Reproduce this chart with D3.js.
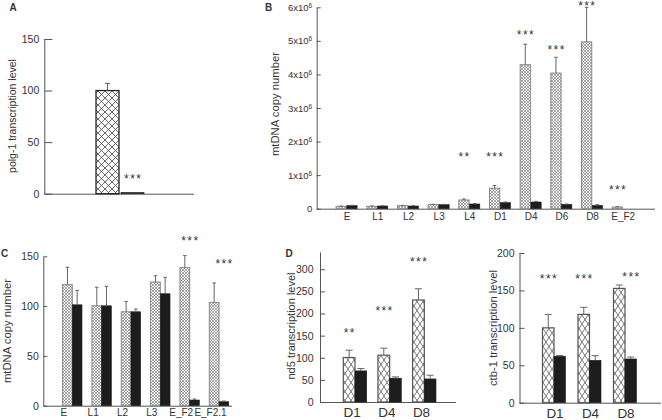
<!DOCTYPE html>
<html>
<head>
<meta charset="utf-8">
<script src="https://cdn.jsdelivr.net/npm/d3@7/dist/d3.min.js"></script>
<style>
  html, body { margin: 0; padding: 0; background: #fff; }
  svg { display: block; }
  text { font-family: "Liberation Sans", Arial, Helvetica, sans-serif; fill: #333; }
</style>
</head>
<body>
<svg id="chart" width="662" height="420"></svg>
<script>
// ---------------- DATA ----------------
// Panel A: polg-1 transcription level
const aGroups = ["polg-1"];
const aCtrl = [100];
const aCtrlErr = [7];
const aMut = [1.2];
const aMutErr = [0];
const aSig = ["***"];
const aSigAt = ["mut"];
const aSigLevel = [17.5];
const aTicks = [0, 50, 100, 150];

// Panel B: mtDNA copy number across stages
const bCats = ["E", "L1", "L2", "L3", "L4", "D1", "D4", "D6", "D8", "E_F2"];
const bCtrl = [70000, 70000, 90000, 120000, 260000, 610000, 4290000, 4040000, 4970000, 50000];
const bCtrlErr = [10000, 10000, 10000, 10000, 30000, 80000, 610000, 470000, 1030000, 10000];
const bMut = [90000, 80000, 80000, 120000, 140000, 180000, 200000, 130000, 100000, 0];
const bMutErr = [10000, 10000, 10000, 10000, 10000, 20000, 20000, 10000, 20000, 0];
const bSig = ["", "", "", "", "**", "***", "***", "***", "***", "***"];
const bSigAt = ["", "", "", "", "ctrl", "ctrl", "ctrl", "ctrl", "ctrl", "ctrl"];
const bSigLevel = [null, null, null, null, 1630000, 1630000, 5250000, 4810000, 6140000, 650000];
const bTicks = [0, 1000000, 2000000, 3000000, 4000000, 5000000, 6000000];

// Panel C: mtDNA copy number (relative)
const cCats = ["E", "L1", "L2", "L3", "E_F2", "E_F2.1"];
const cCtrl = [121.5, 100.3, 94.3, 124.2, 138.6, 103.7];
const cCtrlErr = [17.5, 18.7, 10.4, 6.3, 12.1, 19.5];
const cMut = [101.3, 100.3, 94.3, 112.4, 5.7, 4.0];
const cMutErr = [14.5, 19.5, 2.7, 16.5, 1.0, 0.7];
const cSig = ["", "", "", "", "***", "***"];
const cSigAt = ["", "", "", "", "mid", "mut"];
const cSigLevel = [null, null, null, null, 168, 145];
const cTicks = [0, 50, 100, 150];

// Panel D: nd5 and ctb-1 transcription levels
const dCats = ["D1", "D4", "D8"];
const nd5Ctrl = [100.5, 105.8, 230.5];
const nd5CtrlErr = [16.5, 15.9, 25.5];
const nd5Mut = [70.3, 53.7, 52.1];
const nd5MutErr = [5.3, 3.0, 8.4];
const nd5Sig = ["**", "***", "***"];
const nd5SigAt = ["ctrl", "ctrl", "ctrl"];
const nd5SigLevel = [163.6, 211.6, 323.4];
const nd5Ticks = [0, 50, 100, 150, 200, 250, 300];

const ctbCtrl = [100, 118, 152.7];
const ctbCtrlErr = [18, 9.4, 4.5];
const ctbMut = [62, 56.6, 58.4];
const ctbMutErr = [1, 6.2, 2.6];
const ctbSig = ["***", "***", "***"];
const ctbSigAt = ["ctrl", "ctrl", "mut"];
const ctbSigLevel = [169.4, 169.4, 172];
const ctbTicks = [0, 50, 100, 150, 200];

// ---------------- DRAWING ----------------
const svg = d3.select("#chart");
const FONT = '"Liberation Sans", Arial, Helvetica, sans-serif';

const defs = svg.append("defs");
function hatch(id, w, h, color, sw) {
  const p = defs.append("pattern").attr("id", id)
    .attr("patternUnits", "userSpaceOnUse").attr("width", w).attr("height", h);
  p.append("rect").attr("width", w).attr("height", h).attr("fill", "#fff");
  p.append("path").attr("d", `M0,0L${w},${h}M${w},0L0,${h}`)
    .attr("stroke", color).attr("stroke-width", sw).attr("fill", "none");
}
hatch("patA", 7, 7, "#444", 0.8);
hatch("patBC", 3, 3, "#6a6a6a", 0.6);
hatch("patD", 6, 9, "#555", 0.8);

function drawPanel(o) {
  const g = svg.append("g");
  const y = d3.scaleLinear().domain(o.yDomain).range(o.yRange);
  const x = d3.scalePoint().domain(o.cats).range(o.xRange);
  const sub = d3.scaleBand().domain(["ctrl", "mut"]).range(o.subRange).paddingInner(o.subPad || 0);
  const bw = sub.bandwidth();

  const series = [
    { key: "ctrl", vals: o.ctrl, errs: o.ctrlErr, fill: `url(#${o.pat})`, stroke: o.ctrlStroke, sw: o.ctrlSW },
    { key: "mut", vals: o.mut, errs: o.mutErr, fill: "#1d1d1d", stroke: "#1d1d1d", sw: 0.6 }
  ];

  const yAxis = d3.axisLeft(y).tickValues(o.ticks).tickSize(-o.tickLen).tickSizeOuter(0).tickPadding(o.tickPad);
  const ya = g.append("g").attr("transform", `translate(${o.axisX},0)`).call(yAxis);
  ya.attr("font-family", FONT).attr("font-size", o.tickFont);
  ya.selectAll("path, line").attr("stroke", "#555").attr("stroke-width", 1);
  ya.selectAll("text").attr("fill", "#333");
  if (o.tickFmt) o.tickFmt(ya);

  g.append("line").attr("x1", o.axisX).attr("x2", o.xEnd)
    .attr("y1", y(0) + 0.5).attr("y2", y(0) + 0.5)
    .attr("stroke", "#555").attr("stroke-width", 1);

  if (o.showLabels) {
    const xa = g.append("g").attr("transform", `translate(${o.labelShift},${y(0)})`)
      .call(d3.axisBottom(x).tickSize(0).tickPadding(o.labelPad));
    xa.select(".domain").remove();
    xa.attr("font-family", FONT).attr("font-size", o.labelFont);
    xa.selectAll("text").attr("fill", "#333");
  }

  series.forEach(s => {
    g.append("g").selectAll("rect").data(o.cats).join("rect")
      .attr("x", c => x(c) + sub(s.key))
      .attr("width", bw)
      .attr("y", (c, i) => y(s.vals[i]))
      .attr("height", (c, i) => Math.max(0, y(0) - y(s.vals[i])))
      .attr("fill", s.fill)
      .attr("stroke", (c, i) => s.vals[i] > 0 ? s.stroke : "none")
      .attr("stroke-width", s.sw);

    const eg = g.append("g").attr("stroke", "#666").attr("stroke-width", 1).attr("fill", "none");
    o.cats.forEach((c, i) => {
      if (!s.errs[i]) return;
      const cx = x(c) + sub(s.key) + bw / 2;
      const y0 = y(s.vals[i]), y1 = y(s.vals[i] + s.errs[i]);
      eg.append("line").attr("x1", cx).attr("x2", cx).attr("y1", y0).attr("y2", y1);
      eg.append("line").attr("x1", cx - o.cap).attr("x2", cx + o.cap).attr("y1", y1).attr("y2", y1);
    });
  });

  o.cats.forEach((c, i) => {
    if (!o.sig[i]) return;
    let sx = x(c);
    if (o.sigAt[i] === "ctrl") sx = x(c) + sub("ctrl") + bw / 2;
    if (o.sigAt[i] === "mut") sx = x(c) + sub("mut") + bw / 2;
    g.append("text").attr("x", sx + 0.7).attr("y", y(o.sigLevel[i])).attr("dy", "0.575em")
      .attr("text-anchor", "middle").attr("font-size", 12).attr("letter-spacing", 1.4)
      .attr("fill", "#333").text(o.sig[i]);
  });

  g.append("text").attr("transform", `translate(${o.titleX},${o.titleY}) rotate(-90)`)
    .attr("dy", "0.3em").attr("text-anchor", "middle").attr("font-size", o.titleFont)
    .attr("fill", "#333").text(o.title);

  if (o.letter) {
    g.append("text").attr("x", o.letterX).attr("y", o.letterY).attr("font-size", 10)
      .attr("font-weight", "bold").attr("fill", "#222").text(o.letter);
  }
}

// Panel A
drawPanel({
  cats: aGroups, ctrl: aCtrl, ctrlErr: aCtrlErr, mut: aMut, mutErr: aMutErr,
  sig: aSig, sigAt: aSigAt, sigLevel: aSigLevel, ticks: aTicks,
  yDomain: [0, 150], yRange: [193.7, 39], xRange: [120, 120],
  subRange: [-24, 24], subPad: 0.08, pat: "patA", ctrlStroke: "#222", ctrlSW: 1.3,
  axisX: 44.3, xEnd: 194, tickLen: 8, tickPad: 5, tickFont: 10.5,
  showLabels: false, cap: 2.5,
  title: "polg-1 transcription level", titleX: 13, titleY: 116, titleFont: 10.5,
  letter: "A", letterX: 9.5, letterY: 11
});

// Panel B
drawPanel({
  cats: bCats, ctrl: bCtrl, ctrlErr: bCtrlErr, mut: bMut, mutErr: bMutErr,
  sig: bSig, sigAt: bSigAt, sigLevel: bSigLevel, ticks: bTicks,
  yDomain: [0, 6000000], yRange: [208.7, 7.3], xRange: [346.6, 622.7],
  subRange: [-10.5, 10.5], subPad: 0.05, pat: "patBC", ctrlStroke: "#888", ctrlSW: 1,
  axisX: 316.7, xEnd: 655, tickLen: 4, tickPad: 4.5, tickFont: 9.5,
  tickFmt: ax => {
    ax.selectAll(".tick text").each(function (d) {
      const t = d3.select(this);
      t.text(null);
      if (d === 0) { t.text("0"); return; }
      t.append("tspan").text((d / 1e6) + "x10");
      t.append("tspan").attr("dy", "-0.45em").attr("font-size", 6.5).text("6");
    });
  },
  showLabels: true, labelShift: 0, labelPad: 4.5, labelFont: 10,
  cap: 1.8,
  title: "mtDNA copy number", titleX: 275.5, titleY: 104, titleFont: 11.3,
  letter: "B", letterX: 265, letterY: 10.5
});

// Panel C
drawPanel({
  cats: cCats, ctrl: cCtrl, ctrlErr: cCtrlErr, mut: cMut, mutErr: cMutErr,
  sig: cSig, sigAt: cSigAt, sigLevel: cSigLevel, ticks: cTicks,
  yDomain: [0, 150], yRange: [405.7, 256.3], xRange: [72.3, 219],
  subRange: [-9.7, 9.7], subPad: 0, pat: "patBC", ctrlStroke: "#888", ctrlSW: 1,
  axisX: 43.3, xEnd: 232, tickLen: 4, tickPad: 4.5, tickFont: 10.5,
  showLabels: true, labelShift: -9, labelPad: 3.5, labelFont: 10,
  cap: 1.8,
  title: "mtDNA copy number", titleX: 8, titleY: 331, titleFont: 11.3,
  letter: "C", letterX: 1, letterY: 257
});

// Panel D (left): nd5
drawPanel({
  cats: dCats, ctrl: nd5Ctrl, ctrlErr: nd5CtrlErr, mut: nd5Mut, mutErr: nd5MutErr,
  sig: nd5Sig, sigAt: nd5SigAt, sigLevel: nd5SigLevel, ticks: nd5Ticks,
  yDomain: [0, 339], yRange: [402, 252], xRange: [355, 424.3],
  subRange: [-11.7, 11.7], subPad: 0, pat: "patD", ctrlStroke: "#555", ctrlSW: 1.2,
  axisX: 320, xEnd: 456, tickLen: 5, tickPad: 6.5, tickFont: 10.5,
  showLabels: true, labelShift: -3.3, labelPad: 5, labelFont: 13.5,
  cap: 3.5,
  title: "nd5 transcription level", titleX: 292, titleY: 326, titleFont: 11,
  letter: "D", letterX: 285.5, letterY: 257
});

// Panel D (right): ctb-1
drawPanel({
  cats: dCats, ctrl: ctbCtrl, ctrlErr: ctbCtrlErr, mut: ctbMut, mutErr: ctbMutErr,
  sig: ctbSig, sigAt: ctbSigAt, sigLevel: ctbSigLevel, ticks: ctbTicks,
  yDomain: [0, 200], yRange: [402.7, 253], xRange: [554, 625],
  subRange: [-11.5, 11.5], subPad: 0, pat: "patD", ctrlStroke: "#555", ctrlSW: 1.2,
  axisX: 519.5, xEnd: 661, tickLen: 5, tickPad: 5, tickFont: 10.5,
  showLabels: true, labelShift: 0.5, labelPad: 6, labelFont: 13.5,
  cap: 3.5,
  title: "ctb-1 transcription level", titleX: 494, titleY: 328, titleFont: 11.3,
  letter: null
});
</script>
</body>
</html>
